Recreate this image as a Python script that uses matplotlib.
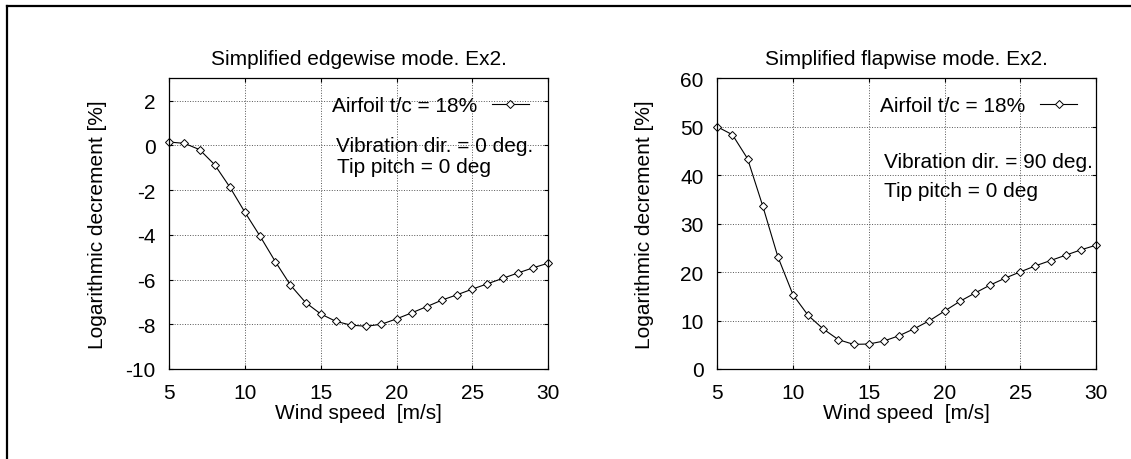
import numpy as np
import matplotlib.pyplot as plt
from matplotlib.lines import Line2D

plt.rcParams['font.family'] = ['Liberation Sans', 'DejaVu Sans']
plt.rcParams['axes.unicode_minus'] = False
fs = 15

wind = list(range(5, 31))
edge = [0.15, 0.09, -0.19, -0.87, -1.87, -3.0, -4.07, -5.2, -6.25, -7.03, -7.54, -7.87, -8.04,
        -8.09, -8.0, -7.76, -7.49, -7.21, -6.92, -6.68, -6.43, -6.19, -5.95, -5.71, -5.48, -5.27]
flap = [50.0, 48.35, 43.4, 33.65, 23.15, 15.3, 11.05, 8.24, 6.04, 5.08, 5.15, 5.77, 6.87,
        8.31, 9.96, 11.95, 13.94, 15.66, 17.31, 18.75, 20.05, 21.29, 22.39, 23.49, 24.59, 25.55]

fig = plt.figure(figsize=(11.31, 4.6), dpi=100)
ax1 = fig.add_axes([0.1497, 0.1957, 0.3348, 0.6319])
ax2 = fig.add_axes([0.6342, 0.1957, 0.3349, 0.6319])

panels = [
    (ax1, edge, 'Simplified edgewise mode. Ex2.', (-10, 3), np.arange(-10, 3, 2),
     ['Vibration dir. = 0 deg.', 'Tip pitch = 0 deg'], [(16.0, 0.0), (16.05, -0.95)], -0.165),
    (ax2, flap, 'Simplified flapwise mode. Ex2.', (0, 60), np.arange(0, 61, 10),
     ['Vibration dir. = 90 deg.', 'Tip pitch = 0 deg'], [(16.0, 42.9), (16.0, 36.9)], -0.167),
]

for ax, vals, title, ylim, yticks, notes, pos, ylx in panels:
    ax.plot(wind, vals, color='black', lw=0.8, marker='D', ms=4, mfc='white',
            mec='black', mew=0.7, label='Airfoil t/c = 18%', clip_on=False)
    ax.set_xlim(5, 30)
    ax.set_ylim(*ylim)
    ax.set_xticks(range(5, 31, 5))
    ax.set_yticks(yticks)
    ax.grid(True, linestyle=':', color='#555555', lw=0.7)
    ax.tick_params(direction='in', length=3, top=True, right=True, labelsize=fs, pad=10)
    for s in ax.spines.values():
        s.set_linewidth(0.9)
    ax.set_title(title, fontsize=fs, pad=10.5)
    ax.set_xlabel('Wind speed  [m/s]', fontsize=fs, labelpad=1)
    ax.set_ylabel('Logarithmic decrement [%]', fontsize=fs)
    ax.yaxis.set_label_coords(ylx, 0.5)
    ax.legend(loc='center right', bbox_to_anchor=(0.950, 0.906), frameon=False,
              markerfirst=False, handlelength=1.78, handletextpad=0.72,
              borderpad=0, borderaxespad=0, fontsize=fs)
    for t, p in zip(notes, pos):
        ax.text(p[0], p[1], t, ha='left', va='center', fontsize=fs)

fig.add_artist(Line2D([0.0058, 0.0058], [0, 0.985], color='black', lw=1.6,
                      transform=fig.transFigure))
fig.add_artist(Line2D([0.0058, 1.0], [0.985, 0.985], color='black', lw=1.6,
                      transform=fig.transFigure))

fig.savefig('out.png', dpi=100)
